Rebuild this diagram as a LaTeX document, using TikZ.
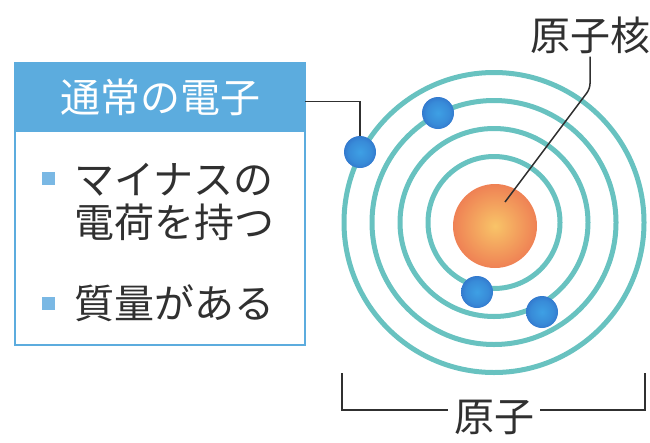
\documentclass[tikz,border=0pt]{standalone}
\usepackage{fontspec}
\setmainfont{Noto Sans CJK JP}
\usetikzlibrary{positioning}
\definecolor{orbitteal}{RGB}{104,194,192}
\definecolor{headblue}{RGB}{92,172,222}
\definecolor{bulletblue}{RGB}{122,184,228}
\definecolor{inkgray}{RGB}{48,48,48}
\definecolor{eLight}{RGB}{62,160,228}
\definecolor{eDark}{RGB}{38,76,180}
\definecolor{nLight}{RGB}{248,196,104}
\definecolor{nDark}{RGB}{236,108,78}
\pgfdeclareradialshading{electronshade}{\pgfpoint{0bp}{0bp}}{color(0bp)=(eLight); color(18bp)=(eLight!75!eDark); color(44bp)=(eDark); color(50bp)=(eDark)}
\pgfdeclareradialshading{nucleusshade}{\pgfpoint{0bp}{0bp}}{color(0bp)=(nLight); color(28bp)=(nDark!85!nLight); color(50bp)=(nDark)}

\begin{document}
\begin{tikzpicture}[x=1pt, y=-1pt,
    orbit/.style={orbitteal, line width=5pt},
    electron/.style={circle, minimum size=32pt, inner sep=0pt, shading=electronshade},
    bullet/.style={fill=bulletblue, minimum size=13pt, inner sep=0pt},
    leader/.style={inkgray, line width=1.5pt},
    tag/.style={inkgray, inner sep=0pt, font=\fontsize{40}{40}\selectfont}]
    \useasboundingbox (0,0) rectangle (650,442);

    % Card with heading
    \node [draw=headblue, line width=2.5pt, fill=white, minimum width=290pt, minimum height=282pt, inner sep=0pt] (card) at (160,204) {};
    \node [fill=headblue, minimum width=290pt, minimum height=69pt, inner sep=0pt, text=white, font=\fontsize{40}{40}\selectfont] (head) at (160,97.5) {通常の電子};

    % Properties
    \node [bullet] (dot1) at (48,178) {};
    \node [tag, align=left, font=\fontsize{40}{43}\selectfont] (item1) at (174.5,201.5) {マイナスの\\電荷を持つ};
    \node [bullet] (dot2) at (48,303) {};
    \node [tag] (item2) at (174.5,303) {質量がある};

    % Orbits and nucleus
    \coordinate (core) at (494,222.5);
    \foreach \r in {66,94,122,150}
        \draw [orbit] (core) circle (\r pt);
    \node [circle, minimum size=84pt, inner sep=0pt, shading=nucleusshade] (nucleus) at (495,226) {};

    % Electrons
    \node [electron] (e1) at (360,152) {};
    \node [electron] (e2) at (438,113) {};
    \node [electron] (e3) at (477,292) {};
    \node [electron] (e4) at (542,312) {};
    \draw [leader] ([yshift=-4pt]head.east) -| (e1.north);

    % Nucleus label
    \node [tag] (nucName) at (590,35) {原子核};
    \coordinate (nucTip) at (505,202);
    \draw [leader, rounded corners=5pt] ([yshift=-3pt]nucName.south) -- ([yshift=-35pt]nucName.south) -- (nucTip);

    % Bracket under the atom
    \node [tag] (atomName) at (494,417) {原子};
    \coordinate (bl) at (342,373);
    \coordinate (br) at (645,373);
    \draw [leader, line width=2pt] (bl) |- ([xshift=-6pt, yshift=7pt]atomName.west);
    \draw [leader, line width=2pt] (br) |- ([xshift=6pt, yshift=7pt]atomName.east);
\end{tikzpicture}
\end{document}
